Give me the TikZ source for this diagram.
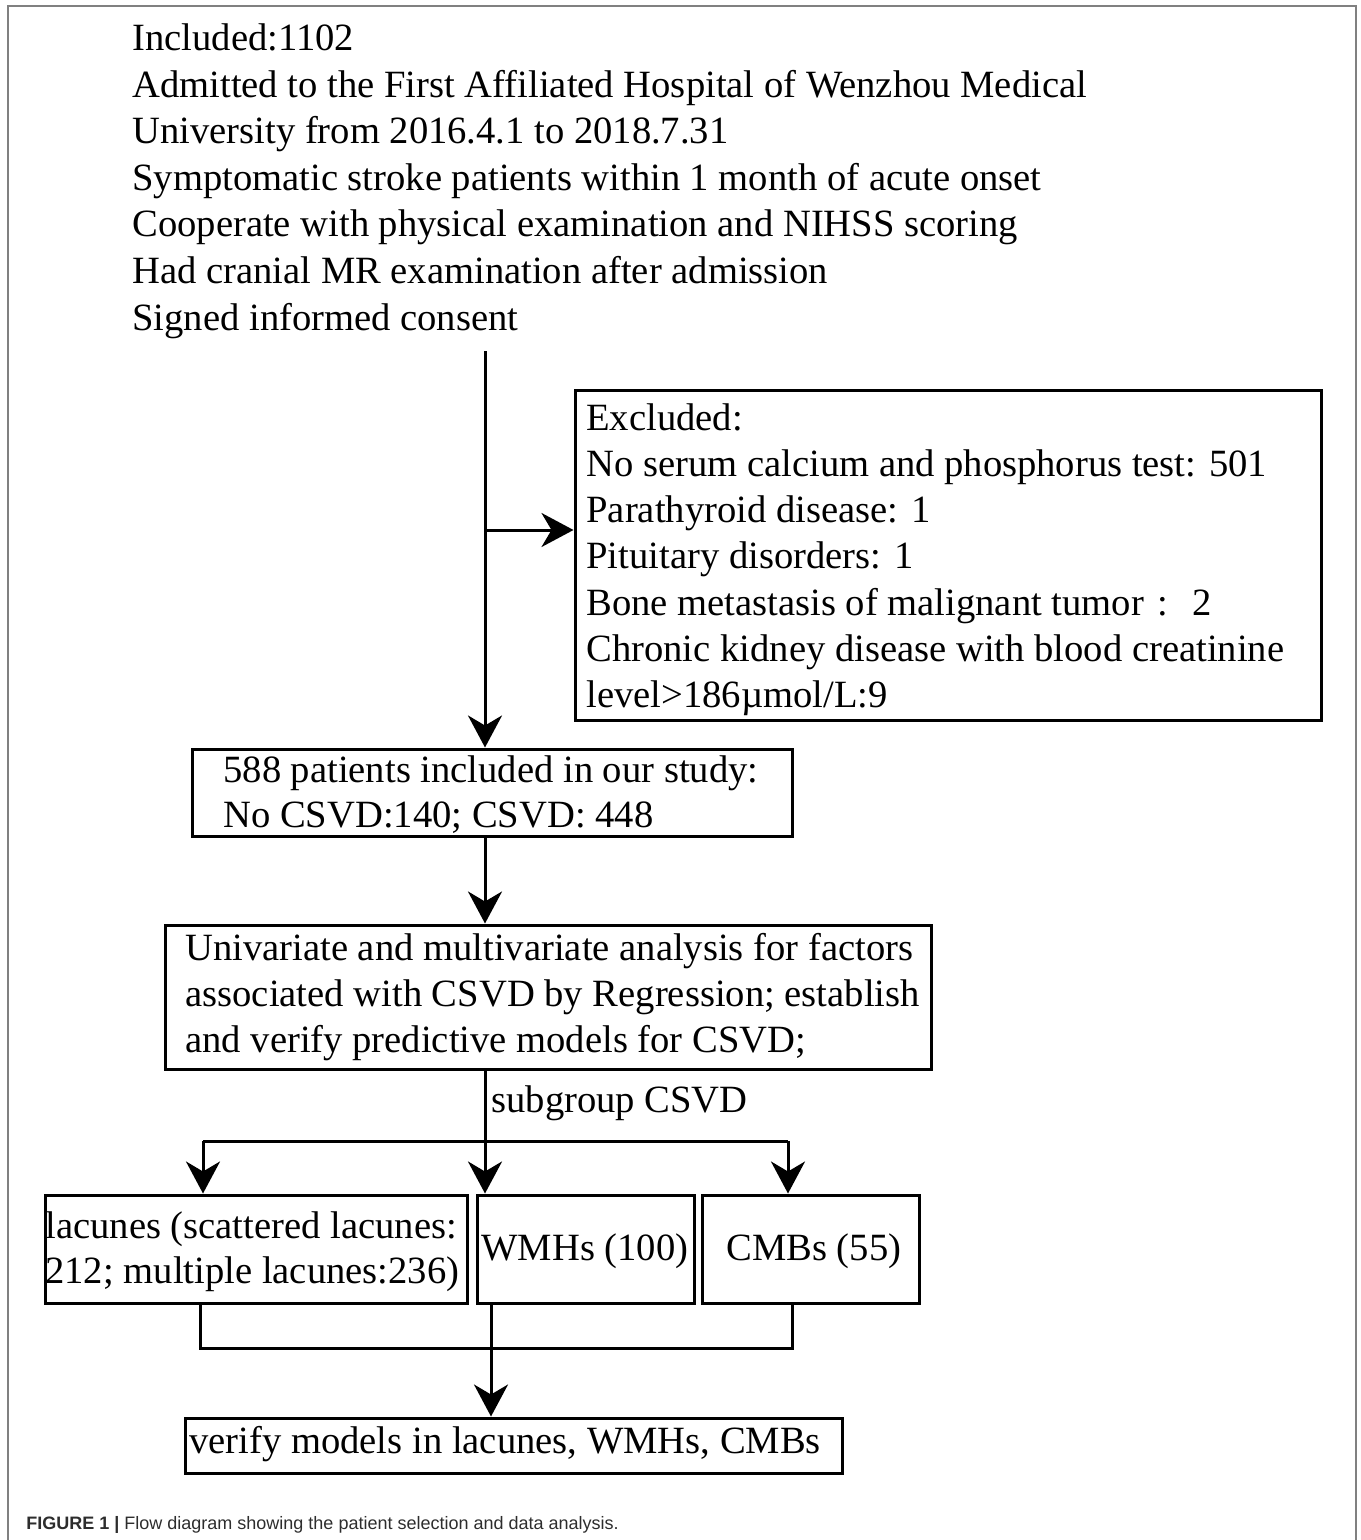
\documentclass[tikz,border=0pt]{standalone}
\usepackage{fontspec}
\setmainfont{Liberation Serif}
\newfontfamily\capfont{Liberation Sans}
\usetikzlibrary{arrows.meta}
\definecolor{framegray}{RGB}{128,128,128}
\definecolor{capgray}{RGB}{45,45,45}
\tikzset{
  box/.style={draw, line width=1.5pt, inner sep=0pt},
  txt/.style={anchor=base west, inner sep=0pt, font=\fontsize{19.3}{23}\selectfont},
  conn/.style={line width=1.5pt},
  arr/.style={conn, -{Stealth[length=16pt,width=17pt,inset=5pt]}}
}
\begin{document}
\begin{tikzpicture}[x=0.5pt,y=-0.5pt]
\useasboundingbox (0,0) rectangle (1360,1540);
% outer frame
\draw[framegray, line width=1pt] (8,1540) -- (8,6) -- (1356,6) -- (1356,1540);

% top inclusion text
\node[txt] (top1) at (132,51) {Included:1102};
\node[txt] (top2) at (132,97.5) {Admitted to the First Affiliated Hospital of Wenzhou Medical};
\node[txt] (top3) at (132,144) {University from 2016.4.1 to 2018.7.31};
\node[txt] (top4) at (132,190.5) {Symptomatic stroke patients within 1 month of acute onset};
\node[txt] (top5) at (132,237) {Cooperate with physical examination and NIHSS scoring};
\node[txt] (top6) at (132,283.5) {Had cranial MR examination after admission};
\node[txt] (top7) at (132,330) {Signed informed consent};

% boxes
\node[box, minimum width=373pt, minimum height=165pt] (excl) at (948,555) {};
\node[box, minimum width=300pt, minimum height=43.5pt] (inc) at (492,792.5) {};
\node[box, minimum width=383pt, minimum height=72pt] (ana) at (548,997) {};
\node[box, minimum width=211pt, minimum height=54pt] (lac) at (256,1249) {};
\node[box, minimum width=108.5pt, minimum height=54pt] (wmh) at (585.5,1249) {};
\node[box, minimum width=108.5pt, minimum height=54pt] (cmb) at (810.5,1249) {};
\node[box, minimum width=328.5pt, minimum height=27.5pt] (ver) at (513.5,1445.5) {};

% excluded text
\node[txt] (ex1) at (586,430) {Excluded:};
\node[txt] (ex2) at (586,476.3) {No serum calcium and phosphorus test: 501};
\node[txt] (ex3) at (586,522.6) {Parathyroid disease: 1};
\node[txt] (ex4) at (586,568.9) {Pituitary disorders: 1};
\node[txt] (ex5) at (586,615.2) {Bone metastasis of malignant tumor\hspace{7pt}:\hspace{12pt}2};
\node[txt] (ex6) at (586,661.5) {Chronic kidney disease with blood creatinine};
\node[txt] (ex7) at (586,707.8) {level>186\textmu mol/L:9};

% included box text
\node[txt] (in1) at (223,782) {588 patients included in our study:};
\node[txt] (in2) at (223,827) {No CSVD:140; CSVD: 448};

% analysis text
\node[txt] (an1) at (185,960) {Univariate and multivariate analysis for factors};
\node[txt] (an2) at (185,1006) {associated with CSVD by Regression; establish};
\node[txt] (an3) at (185,1052) {and verify predictive models for CSVD;};

\node[txt] (sub) at (491,1112) {subgroup CSVD};

% subgroup boxes text
\node[txt] (la1) at (45,1238) {lacunes (scattered lacunes:};
\node[txt] (la2) at (45,1283) {212; multiple lacunes:236)};
\node[txt] (wm1) at (481,1260) {WMHs (100)};
\node[txt] (cm1) at (726,1260) {CMBs (55)};
\node[txt] (ve1) at (189,1453) {verify models in lacunes, WMHs, CMBs};

% caption
\node[anchor=base west, inner sep=0pt, text=capgray, font=\capfont\fontsize{9}{11}\selectfont] (cap) at (26,1529) {\textbf{FIGURE 1 |} Flow diagram showing the patient selection and data analysis.};

% connectors
\coordinate (start) at (485,351);
\coordinate (br) at (485,530);
\coordinate (col) at (485,0);
\coordinate (split) at (485,1141);
\coordinate (sl) at (203,1141);
\coordinate (sr) at (788,1141);
\coordinate (jl) at (200,1348);
\coordinate (jm) at (491,1348);
\coordinate (jr) at (792,1348);

\draw[arr] (start) -- (start |- inc.north);
\draw[arr] (br) -- (br -| excl.west);
\draw[arr] (col |- inc.south) -- (col |- ana.north);
\draw[conn] (col |- ana.south) -- (split);
\draw[conn] (sl) -- (sr);
\draw[arr] (sl) -- (sl |- lac.north);
\draw[arr] (split) -- (split |- wmh.north);
\draw[arr] (sr) -- (sr |- cmb.north);
\draw[conn] (jl |- lac.south) -- (jl) -- (jr) -- (jr |- cmb.south);
\draw[arr] (jm |- wmh.south) -- (jm |- ver.north);
\end{tikzpicture}
\end{document}
